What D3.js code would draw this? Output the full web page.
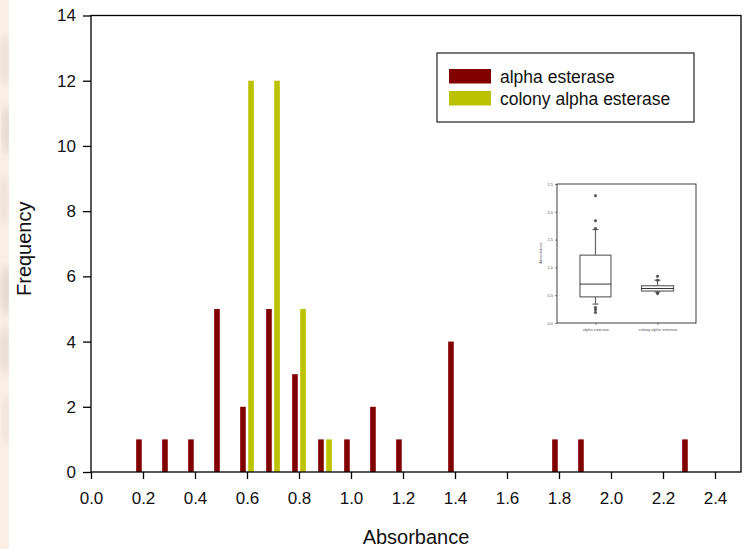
<!DOCTYPE html>
<html>
<head>
<meta charset="utf-8">
<script src="https://cdn.jsdelivr.net/npm/d3@7"></script>
<style>
  body { margin: 0; background: #fff; }
  svg { display: block; font-family: "Liberation Sans", Arial, sans-serif; }
</style>
</head>
<body>
<svg id="chart" width="745" height="549"></svg>
<script>
// histogram bins (bin value -> count)
var alphaBins   = [0.2, 0.3, 0.4, 0.5, 0.6, 0.7, 0.8, 0.9, 1.0, 1.1, 1.2, 1.4, 1.8, 1.9, 2.3];
var alphaCounts = [1,   1,   1,   5,   2,   5,   3,   1,   1,   2,   1,   4,   1,   1,   1];
var colonyBins   = [0.6, 0.7, 0.8, 0.9];
var colonyCounts = [12,  12,  5,   1];

var seriesNames = ["alpha esterase", "colony alpha esterase"];
var seriesColors = ["#800000", "#bdc200"];

var xTicks = [0.0, 0.2, 0.4, 0.6, 0.8, 1.0, 1.2, 1.4, 1.6, 1.8, 2.0, 2.2, 2.4];
var yTicks = [0, 2, 4, 6, 8, 10, 12, 14];

// inset box plot summaries
var boxGroups  = ["alpha esterase", "colony alpha esterase"];
var boxQ1      = [0.47, 0.575];
var boxMedian  = [0.70, 0.62];
var boxQ3      = [1.22, 0.67];
var boxLow     = [0.34, 0.56];
var boxHigh    = [1.68, 0.77];
var boxOutliers = [[2.29, 1.84, 1.70, 0.28, 0.24, 0.19], [0.84, 0.77, 0.54, 0.53]];
var insetTicks = [0.0, 0.5, 1.0, 1.5, 2.0, 2.5];

var svg = d3.select("#chart");

// textured strip at the left edge
var bg = svg.append("g");
bg.append("rect").attr("x", 0).attr("y", 0).attr("width", 9).attr("height", 549).attr("fill", "#fbeee5");
var defs = svg.append("defs");
defs.append("filter").attr("id", "blur").append("feGaussianBlur").attr("stdDeviation", 3);
defs.append("clipPath").attr("id", "strip").append("rect").attr("width", 9).attr("height", 549);
var blots = [[5, 60, 0.18], [7, 130, 0.25], [4, 200, 0.15], [6, 290, 0.28], [5, 350, 0.22], [7, 420, 0.12]];
bg.append("g").attr("clip-path", "url(#strip)")
  .selectAll("ellipse").data(blots).enter().append("ellipse")
  .attr("cx", function(d) { return d[0]; })
  .attr("cy", function(d) { return d[1]; })
  .attr("rx", 5).attr("ry", 25)
  .attr("fill", "#a89c94")
  .attr("opacity", function(d) { return d[2]; })
  .attr("filter", "url(#blur)");

var plotLeft = 91, plotRight = 741, plotTop = 15.5, plotBottom = 472;

var x = d3.scaleLinear().domain([0, 2.5]).range([plotLeft, plotRight]);
var y = d3.scaleLinear().domain([0, 14]).range([plotBottom, plotTop]);

var barW = 5.6;
var offset = 0.0155;

var series = [
  alphaBins.map(function(b, i) { return {bin: b, count: alphaCounts[i]}; }),
  colonyBins.map(function(b, i) { return {bin: b, count: colonyCounts[i]}; })
];

series.forEach(function(data, s) {
  svg.append("g").selectAll("rect")
    .data(data)
    .enter().append("rect")
    .attr("x", function(d) { return x(d.bin + (s === 0 ? -offset : offset)) - barW / 2; })
    .attr("y", function(d) { return y(d.count); })
    .attr("width", barW)
    .attr("height", function(d) { return y(0) - y(d.count); })
    .attr("fill", seriesColors[s]);
});

// frame
svg.append("rect")
  .attr("x", plotLeft).attr("y", plotTop)
  .attr("width", plotRight - plotLeft).attr("height", plotBottom - plotTop)
  .attr("fill", "none").attr("stroke", "#000").attr("stroke-width", 1.3);

var xAxis = d3.axisBottom(x).tickValues(xTicks).tickSize(7).tickPadding(13)
  .tickFormat(d3.format(".1f"));
var yAxis = d3.axisLeft(y).tickValues(yTicks).tickSize(8).tickPadding(7);

var gx = svg.append("g").attr("transform", "translate(0," + plotBottom + ")").call(xAxis);
var gy = svg.append("g").attr("transform", "translate(" + plotLeft + ",0)").call(yAxis);
[gx, gy].forEach(function(g) {
  g.select(".domain").remove();
  g.selectAll("line").attr("stroke", "#000").attr("stroke-width", 1.3);
  g.selectAll("text").attr("font-size", 17).attr("fill", "#111")
    .attr("font-family", "Liberation Sans, Arial, sans-serif");
});

svg.append("text")
  .attr("x", (plotLeft + plotRight) / 2).attr("y", 544)
  .attr("text-anchor", "middle").attr("font-size", 20).attr("fill", "#111")
  .text("Absorbance");

svg.append("text")
  .attr("transform", "translate(31," + ((plotTop + plotBottom) / 2 + 5) + ") rotate(-90)")
  .attr("text-anchor", "middle").attr("font-size", 20).attr("fill", "#111")
  .text("Frequency");

// legend
var legend = svg.append("g").attr("transform", "translate(437,53)");
legend.append("rect")
  .attr("width", 257).attr("height", 69)
  .attr("fill", "#fff").attr("stroke", "#333").attr("stroke-width", 1.3);
var items = legend.selectAll(".legend").data(seriesNames).enter().append("g")
  .attr("class", "legend")
  .attr("transform", function(d, i) { return "translate(12," + (16 + i * 22) + ")"; });
items.append("rect")
  .attr("width", 42).attr("height", 14.5)
  .attr("fill", function(d, i) { return seriesColors[i]; });
items.append("text")
  .attr("x", 51).attr("y", 7.5).attr("dy", ".35em")
  .attr("font-size", 17.5).attr("fill", "#111")
  .text(function(d) { return d; });

// inset box plot
var inset = svg.append("g");
var ix = d3.scalePoint().domain(boxGroups).range([557, 696]).padding(0.62);
var iy = d3.scaleLinear().domain([0, 2.5]).range([323, 184]);

inset.append("rect")
  .attr("x", 557).attr("y", 184).attr("width", 139).attr("height", 139)
  .attr("fill", "#fff").attr("stroke", "#111").attr("stroke-width", 0.8);

var iyAxis = d3.axisLeft(iy).tickValues(insetTicks).tickSize(2).tickPadding(2)
  .tickFormat(d3.format(".1f"));
var ixAxis = d3.axisBottom(ix).tickSize(2).tickPadding(3);
var giy = inset.append("g").attr("transform", "translate(557,0)").call(iyAxis);
var gix = inset.append("g").attr("transform", "translate(0,323)").call(ixAxis);
[giy, gix].forEach(function(g) {
  g.select(".domain").remove();
  g.selectAll("line").attr("stroke", "#333").attr("stroke-width", 0.6);
  g.selectAll("text").attr("font-size", 4).attr("fill", "#555");
});
inset.append("text")
  .attr("transform", "translate(542,253) rotate(-90)")
  .attr("text-anchor", "middle").attr("font-size", 4).attr("fill", "#555")
  .text("Absorbance");

var boxW = [31, 32];
boxGroups.forEach(function(g, i) {
  var cx = ix(g), w = boxW[i];
  var gb = inset.append("g").attr("stroke", "#666").attr("stroke-width", 1.2).attr("fill", "none");
  gb.append("line").attr("x1", cx).attr("x2", cx).attr("y1", iy(boxQ3[i])).attr("y2", iy(boxHigh[i]));
  gb.append("line").attr("x1", cx).attr("x2", cx).attr("y1", iy(boxQ1[i])).attr("y2", iy(boxLow[i]));
  gb.append("line").attr("x1", cx - 3).attr("x2", cx + 3).attr("y1", iy(boxHigh[i])).attr("y2", iy(boxHigh[i]));
  gb.append("line").attr("x1", cx - 3).attr("x2", cx + 3).attr("y1", iy(boxLow[i])).attr("y2", iy(boxLow[i]));
  gb.append("rect")
    .attr("x", cx - w / 2).attr("y", iy(boxQ3[i]))
    .attr("width", w).attr("height", iy(boxQ1[i]) - iy(boxQ3[i]))
    .attr("fill", "#fff");
  inset.append("line")
    .attr("x1", cx - w / 2).attr("x2", cx + w / 2)
    .attr("y1", iy(boxMedian[i])).attr("y2", iy(boxMedian[i]))
    .attr("stroke", "#000").attr("stroke-width", 0.8);
  inset.append("g").selectAll("circle").data(boxOutliers[i]).enter().append("circle")
    .attr("cx", cx).attr("cy", function(d) { return iy(d); })
    .attr("r", 1.3).attr("fill", "#555").attr("stroke", "#333").attr("stroke-width", 0.4);
});
</script>
</body>
</html>
